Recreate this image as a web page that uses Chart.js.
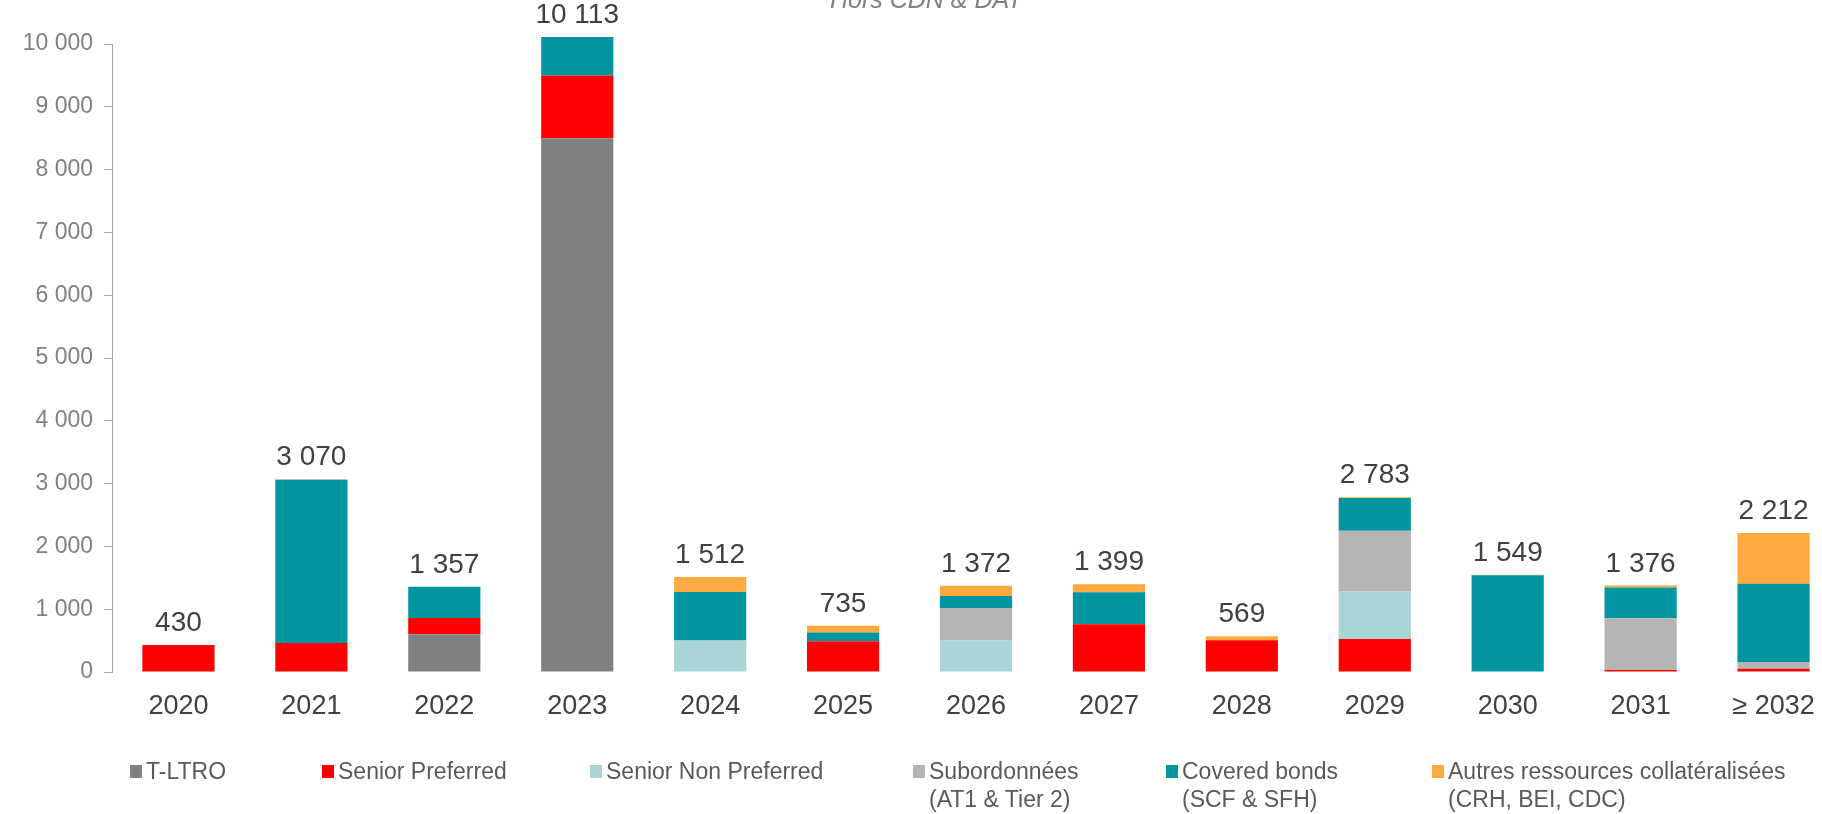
<!DOCTYPE html>
<html>
<head>
<meta charset="utf-8">
<script src="https://cdn.jsdelivr.net/npm/chart.js@4.4.1/dist/chart.umd.min.js"></script>
<style>
  html, body { margin: 0; padding: 0; background: #ffffff; overflow: hidden; }
  #wrap { position: relative; width: 1850px; height: 814px; }
  #chart { position: absolute; left: 0; top: 0; }
  .title { position: absolute; left: 830px; top: -13px; font: italic 25px/25px "Liberation Sans", Arial, sans-serif; color: #808080; white-space: nowrap; }
  .leg { position: absolute; top: 757px; font: 23px/28px "Liberation Sans", Arial, sans-serif; color: #595959; white-space: nowrap; }
  .mk { position: absolute; top: 765px; width: 12px; height: 13px; }
</style>
</head>
<body>
<div id="wrap">
  <canvas id="chart" width="1850" height="814"></canvas>
  <div class="title">Hors CDN &amp; DAT</div>
  <div id="legend"></div>
</div>
<script>
const categories = ["2020","2021","2022","2023","2024","2025","2026","2027","2028","2029","2030","2031","≥ 2032"];
const totalLabels = [430, 3070, 1357, 10113, 1512, 735, 1372, 1399, 569, 2783, 1549, 1376, 2212];
const tltro       = [0, 0, 600, 8500, 0, 0, 0, 0, 0, 0, 0, 0, 0];
const seniorPref  = [430, 460, 260, 1000, 0, 490, 0, 760, 505, 525, 0, 30, 50];
const seniorNonPref = [0, 0, 0, 0, 500, 0, 500, 0, 0, 758, 0, 0, 0];
const subordonnees = [0, 0, 0, 0, 0, 0, 510, 0, 0, 965, 0, 825, 110];
const coveredBonds = [0, 2600, 497, 613, 772, 140, 202, 509, 0, 522, 1541, 491, 1245];
const autres      = [0, 10, 0, 0, 240, 105, 160, 130, 64, 13, 8, 30, 807];
const yTicks = [0,1000,2000,3000,4000,5000,6000,7000,8000,9000,10000];

const seriesNames = ["T-LTRO", "Senior Preferred", "Senior Non Preferred", ["Subordonnées", "(AT1 & Tier 2)"], ["Covered bonds", "(SCF & SFH)"], ["Autres ressources collatéralisées", "(CRH, BEI, CDC)"]];
const seriesData = [tltro, seniorPref, seniorNonPref, subordonnees, coveredBonds, autres];
const seriesColors = ["#808080", "#ff0000", "#a9d5d6", "#b4b4b4", "#00959f", "#ffa940"];
const legendX = [130, 322, 590, 913, 1166, 1432];

function fmt(v) {
  return String(v).replace(/\B(?=(\d{3})+(?!\d))/g, " ");
}

const totalsPlugin = {
  id: 'totals',
  afterDatasetsDraw(chart) {
    const ctx = chart.ctx;
    const xs = chart.scales.x, ys = chart.scales.y;
    ctx.save();
    ctx.font = '28px "Liberation Sans", Arial, sans-serif';
    ctx.fillStyle = '#404040';
    ctx.textAlign = 'center';
    ctx.textBaseline = 'alphabetic';
    categories.forEach((c, i) => {
      let sum = 0;
      seriesData.forEach(s => sum += s[i]);
      const x = xs.getPixelForValue(i);
      const y = ys.getPixelForValue(sum);
      ctx.fillText(fmt(totalLabels[i]), x, y - 14);
    });
    ctx.restore();
  }
};

new Chart(document.getElementById('chart'), {
  type: 'bar',
  data: {
    labels: categories,
    datasets: seriesData.map((d, i) => ({
      label: Array.isArray(seriesNames[i]) ? seriesNames[i].join(' ') : seriesNames[i],
      data: d,
      backgroundColor: seriesColors[i],
      borderWidth: 0,
      barPercentage: 0.543,
      categoryPercentage: 1.0,
      clip: false
    }))
  },
  options: {
    responsive: false,
    animation: false,
    devicePixelRatio: 1,
    layout: { padding: { top: 44, right: 10, left: 0, bottom: 0 } },
    plugins: { legend: { display: false }, tooltip: { enabled: false } },
    scales: {
      x: {
        stacked: true,
        grid: { display: false, drawTicks: false },
        border: { display: false },
        ticks: { color: '#404040', font: { family: '"Liberation Sans", Arial, sans-serif', size: 27 }, padding: 18, maxRotation: 0, autoSkip: false },
        afterFit(scale) { scale.height = 142; }
      },
      y: {
        stacked: true,
        min: 0,
        max: 10000,
        afterBuildTicks(scale) { scale.ticks = yTicks.map(v => ({ value: v })); },
        grid: { drawOnChartArea: false, drawTicks: true, tickLength: 8, color: '#a6a6a6' },
        border: { display: true, color: '#a6a6a6', width: 1 },
        ticks: { color: '#808080', font: { family: '"Liberation Sans", Arial, sans-serif', size: 23 }, padding: 11, callback: v => fmt(v) },
        afterFit(scale) { scale.width = 112; }
      }
    }
  },
  plugins: [totalsPlugin]
});

// HTML legend built from the series names/colours
const legend = document.getElementById('legend');
seriesNames.forEach((name, i) => {
  const mk = document.createElement('div');
  mk.className = 'mk';
  mk.style.left = legendX[i] + 'px';
  mk.style.background = seriesColors[i];
  legend.appendChild(mk);
  const t = document.createElement('div');
  t.className = 'leg';
  t.style.left = (legendX[i] + 16) + 'px';
  const lines = Array.isArray(name) ? name : [name];
  lines.forEach((ln, k) => {
    if (k) t.appendChild(document.createElement('br'));
    t.appendChild(document.createTextNode(ln));
  });
  legend.appendChild(t);
});
</script>
</body>
</html>
